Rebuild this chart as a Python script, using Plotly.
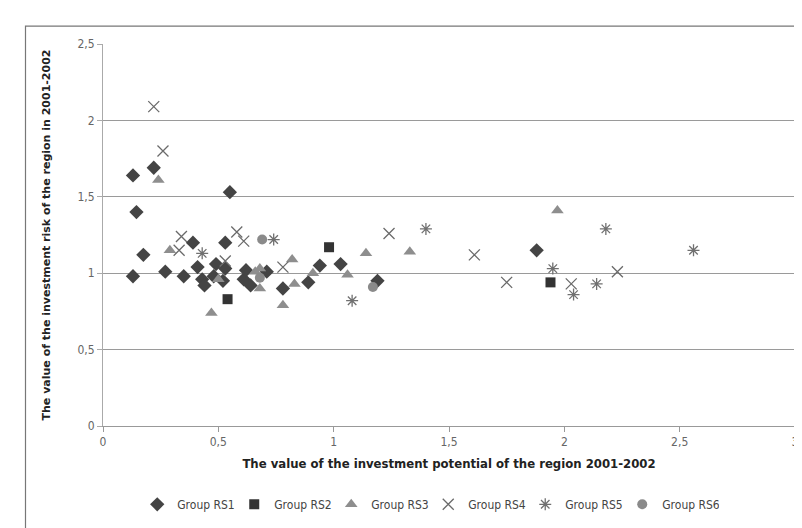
import plotly.graph_objects as go

# ---- data ----
rs1_x = [0.13, 0.145, 0.175, 0.13, 0.22, 0.27, 0.35, 0.39, 0.41, 0.43, 0.44, 0.48, 0.49,
         0.52, 0.53, 0.53, 0.55, 0.61, 0.62, 0.64, 0.71, 0.78, 0.89, 0.94, 1.03, 1.19, 1.88]
rs1_y = [1.64, 1.40, 1.12, 0.98, 1.69, 1.01, 0.98, 1.20, 1.04, 0.96, 0.92, 0.98, 1.06,
         0.95, 1.20, 1.03, 1.53, 0.96, 1.02, 0.92, 1.01, 0.90, 0.94, 1.05, 1.06, 0.95, 1.15]

rs2_x = [0.54, 0.98, 1.94]
rs2_y = [0.83, 1.17, 0.94]

rs3_x = [0.24, 0.29, 0.47, 0.50, 0.66, 0.68, 0.68, 0.78, 0.82, 0.83, 0.91, 1.06, 1.14, 1.33, 1.97]
rs3_y = [1.61, 1.15, 0.74, 0.96, 1.01, 0.90, 1.03, 0.79, 1.09, 0.93, 1.00, 0.99, 1.13, 1.14, 1.41]

rs4_x = [0.22, 0.26, 0.34, 0.33, 0.53, 0.58, 0.61, 0.78, 1.24, 1.61, 1.75, 2.03, 2.23]
rs4_y = [2.09, 1.80, 1.24, 1.15, 1.08, 1.27, 1.21, 1.04, 1.26, 1.12, 0.94, 0.93, 1.01]

rs5_x = [0.43, 0.74, 1.08, 1.40, 1.95, 2.04, 2.14, 2.18, 2.56]
rs5_y = [1.13, 1.22, 0.82, 1.29, 1.03, 0.86, 0.93, 1.29, 1.15]

rs6_x = [0.69, 0.68, 1.17]
rs6_y = [1.22, 0.97, 0.91]

x_tickvals = [0, 0.5, 1, 1.5, 2, 2.5, 3]
x_ticktext = ["0", "0,5", "1", "1,5", "2", "2,5", "3"]
y_tickvals = [0, 0.5, 1, 1.5, 2, 2.5]
y_ticktext = ["0", "0,5", "1", "1,5", "2", "2,5"]

series_names = ["Group RS1", "Group RS2", "Group RS3", "Group RS4", "Group RS5", "Group RS6"]

x_title = "The value of the investment potential of the region 2001-2002"
y_title = "The value of the investment risk of the region in 2001-2002"

# ---- figure ----
fig = go.Figure()

styles = [
    dict(symbol="diamond", size=11, color="#444444"),
    dict(symbol="square", size=10, color="#333333"),
    dict(symbol="triangle-up", size=11, color="#8e8e8e"),
    dict(symbol="x-thin-open", size=11, color="#6a6a6a", line=dict(width=1.3, color="#6a6a6a")),
    dict(symbol="asterisk-open", size=10, color="#707070", line=dict(width=1.3, color="#707070")),
    dict(symbol="circle", size=10, color="#8a8a8a"),
]
data = [(rs1_x, rs1_y), (rs2_x, rs2_y), (rs3_x, rs3_y), (rs4_x, rs4_y), (rs5_x, rs5_y), (rs6_x, rs6_y)]

for name, (xs, ys), st in zip(series_names, data, styles):
    fig.add_trace(go.Scatter(x=xs, y=ys, mode="markers", name=name, marker=st))

narrow = "DejaVu Sans Condensed, Liberation Sans Narrow, sans-serif"
tick_font = dict(family=narrow, size=12, color="#666666")

fig.update_layout(
    width=802, height=528,
    margin=dict(l=95, r=12, t=36, b=110),
    paper_bgcolor="white",
    plot_bgcolor="white",
    showlegend=True,
    legend=dict(
        orientation="h", x=0.47, xanchor="center", y=-0.205, yanchor="middle",
        font=dict(family=narrow, size=12, color="#444444"),
        itemwidth=30, entrywidth=52, entrywidthmode="pixels",
        bgcolor="rgba(0,0,0,0)",
    ),
    xaxis=dict(
        range=[0, 3], tickvals=x_tickvals, ticktext=x_ticktext,
        showgrid=False, zeroline=False,
        showline=True, linecolor="#999999", linewidth=1,
        ticks="outside", ticklen=5, tickcolor="#999999",
        tickfont=tick_font,
        title=dict(text=x_title, standoff=10,
                   font=dict(family=narrow, size=13, color="#222222", weight="bold")),
    ),
    yaxis=dict(
        range=[0, 2.5], tickvals=y_tickvals, ticktext=y_ticktext,
        showgrid=True, gridcolor="#9a9a9a", gridwidth=1, zeroline=False,
        showline=True, linecolor="#aaaaaa", linewidth=1,
        ticks="outside", ticklen=5, tickcolor="#aaaaaa",
        tickfont=tick_font,
        title=dict(text=y_title, standoff=24,
                   font=dict(family="DejaVu Sans, sans-serif", size=11, color="#222222", weight="bold")),
    ),
    shapes=[dict(type="rect", xref="paper", yref="paper",
                 x0=-0.112, x1=1.02, y0=-0.285, y1=1.047,
                 line=dict(color="#777777", width=1.2), fillcolor="rgba(0,0,0,0)", layer="below")],
)

fig.write_html("out.html")
